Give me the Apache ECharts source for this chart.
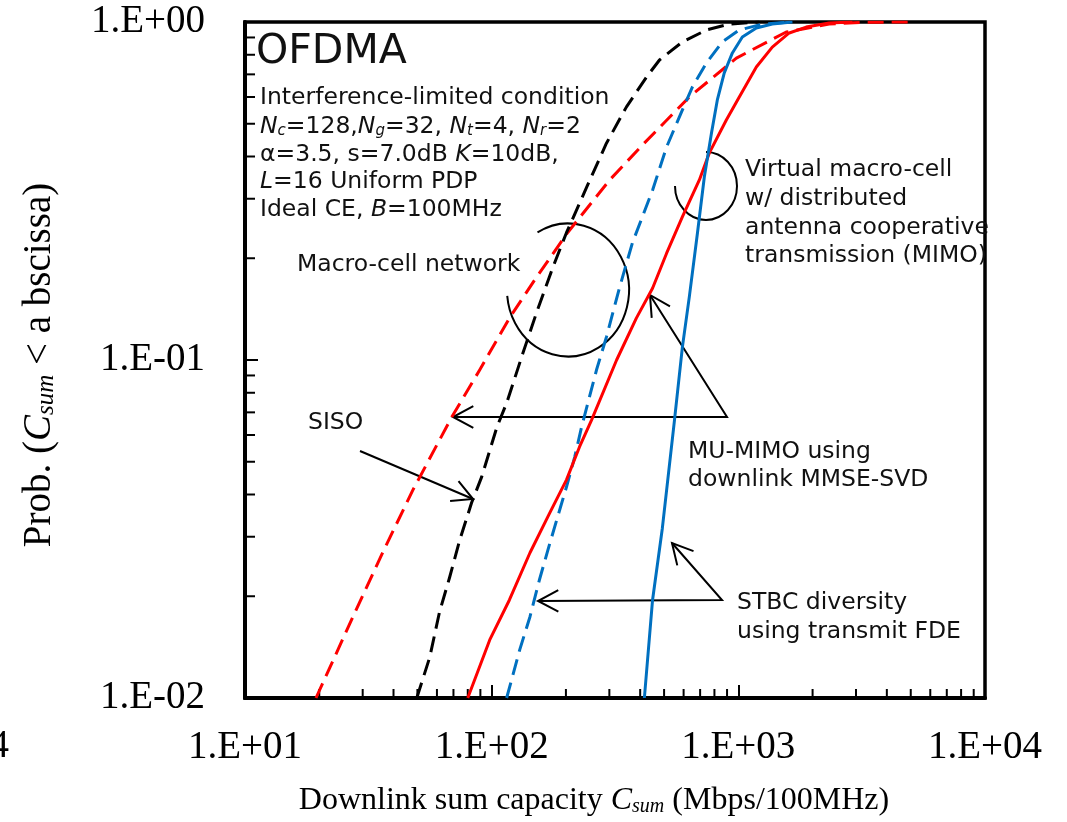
<!DOCTYPE html>
<html>
<head>
<meta charset="utf-8">
<script src="https://cdn.jsdelivr.net/npm/echarts@6/dist/echarts.min.js"></script>
<style>
  html, body { margin: 0; padding: 0; background: #fff; }
  #chart { width: 1067px; height: 822px; }
</style>
</head>
<body>
<div id="chart"></div>
<script>
// CDF of downlink sum capacity: [C_sum (Mbps/100MHz), Prob(C_sum < abscissa)]
// Macro-cell network (dashed)
const macroMuMimo = [[19.4,0.01],[27.4,0.0174],[36.2,0.027],[47.9,0.0412],[68.9,0.0678],[89.4,0.0934],[118,0.133],[149,0.172],[203,0.238],[301,0.341],[409,0.433],[633,0.600],[982,0.782],[1564,0.934],[2335,0.986],[3200,0.998],[5100,1]];
const macroSiso = [[49.7,0.01],[56.1,0.0132],[61.5,0.018],[67.6,0.0228],[74.2,0.0293],[82.9,0.0378],[91.1,0.0451],[105,0.0633],[115,0.0746],[134,0.105],[152,0.138],[177,0.188],[201,0.238],[243,0.325],[292,0.438],[352,0.561],[425,0.688],[479,0.772],[593,0.873],[742,0.947],[920,0.986],[1217,1]];
const macroStbc = [[115,0.01],[130,0.0139],[143,0.0174],[156,0.0223],[169,0.0274],[185,0.0343],[201,0.0421],[217,0.0516],[231,0.0629],[266,0.0934],[292,0.117],[330,0.164],[372,0.222],[449,0.318],[512,0.427],[577,0.524],[651,0.642],[742,0.756],[861,0.873],[1009,0.947],[1250,0.986],[1655,1]];
// Virtual macro-cell with distributed antenna cooperative transmission (solid)
const virtualMuMimo = [[80,0.01],[98.2,0.01485],[118,0.0195],[143,0.0269],[172,0.0353],[201,0.0442],[227,0.0553],[254,0.0664],[321,0.1],[386,0.133],[449,0.163],[512,0.207],[593,0.265],[695,0.341],[763,0.41],[894,0.513],[1009,0.6],[1183,0.736],[1373,0.843],[1608,0.928],[1884,0.966],[2335,0.993],[2900,1]];
const virtualStbc = [[416,0.01],[449,0.0195],[492,0.0318],[551,0.0664],[593,0.109],[633,0.154],[683,0.238],[728,0.348],[778,0.469],[822,0.588],[877,0.707],[946,0.81],[1038,0.903],[1183,0.96],[1373,0.986],[1655,1]];

const xTickLabels = ['1.E+01', '1.E+02', '1.E+03', '1.E+04'];
const yTickLabels = ['1.E-02', '1.E-01', '1.E+00'];

const RED = '#ff0000', BLUE = '#0070c0', BLACK = '#000000';
const SERIF = '"Liberation Serif", "Times New Roman", serif';
const SANS = '"DejaVu Sans", Verdana, sans-serif';
const TXT = '#111111';
const FS = 23.5;

// Logarithmic minor tick positions (2..9 within each decade)
const minorTicks = [];
[10, 100, 1000].forEach(d => { for (let m = 2; m <= 9; m++) minorTicks.push([m * d, 0.01, 0]); });
[0.01, 0.1].forEach(d => { for (let m = 2; m <= 9; m++) minorTicks.push([10, +(m * d).toFixed(3), 1]); });

function curve(name, data, color, dashed) {
  return {
    name, type: 'line', data,
    showSymbol: false, smooth: false,
    lineStyle: { color, width: 3, type: dashed ? [16, 8] : 'solid', join: 'round' },
    z: 5, silent: true
  };
}

// open V arrow head at (tx,ty) for a shaft coming from (fx,fy)
function arrowHead(tx, ty, fx, fy) {
  const th = Math.atan2(fy - ty, fx - tx), a = 28 * Math.PI / 180, L = 23;
  return {
    type: 'polyline',
    shape: { points: [[tx + L * Math.cos(th + a), ty + L * Math.sin(th + a)], [tx, ty], [tx + L * Math.cos(th - a), ty + L * Math.sin(th - a)]] },
    style: { stroke: BLACK, lineWidth: 2, fill: null }
  };
}
function seg(points) {
  return { type: 'polyline', shape: { points }, style: { stroke: BLACK, lineWidth: 2, fill: null } };
}
function label(x, y, text, size, extra) {
  return {
    type: 'text', x, y,
    style: Object.assign({ text, font: size + 'px ' + SANS, fill: TXT, align: 'left', verticalAlign: 'middle' }, extra || {})
  };
}
const richSub = {
  i: { fontStyle: 'italic', fontSize: FS, fontFamily: SANS, fill: TXT },
  s: { fontStyle: 'italic', fontSize: 15, fontFamily: SANS, fill: TXT, verticalAlign: 'bottom' }
};

const chart = echarts.init(document.getElementById('chart'), null, { renderer: 'canvas' });

chart.setOption({
  backgroundColor: '#ffffff',
  animation: false,
  grid: { left: 245, right: 82, top: 22, bottom: 124, containLabel: false, show: true, borderColor: BLACK, borderWidth: 3.5, backgroundColor: 'transparent' },
  xAxis: {
    type: 'log', logBase: 10, min: 10, max: 10000,
    name: 'Downlink sum capacity {i|C}{s|sum} (Mbps/100MHz)',
    nameLocation: 'middle', nameGap: 87,
    nameTextStyle: {
      fontFamily: SERIF, fontSize: 32, color: BLACK, padding: [0, 42, 0, 0],
      rich: {
        i: { fontFamily: SERIF, fontSize: 32, fontStyle: 'italic', color: BLACK },
        s: { fontFamily: SERIF, fontSize: 20, fontStyle: 'italic', color: BLACK, verticalAlign: 'bottom' }
      }
    },
    axisLine: { show: true, lineStyle: { color: BLACK, width: 4 } },
    axisTick: { show: true, inside: true, length: 13, lineStyle: { color: BLACK, width: 2 } },
    minorTick: { show: false },
    splitLine: { show: false },
    axisLabel: {
      margin: 30, fontFamily: SERIF, fontSize: 39, color: BLACK,
      formatter: v => xTickLabels[Math.round(Math.log10(v)) - 1]
    }
  },
  yAxis: {
    type: 'log', logBase: 10, min: 0.01, max: 1,
    name: 'Prob. ({i|C}{s|sum} < a bscissa)',
    nameLocation: 'middle', nameGap: 186, nameRotate: 90,
    nameTextStyle: {
      fontFamily: SERIF, fontSize: 39, color: BLACK, padding: [0, 10, 0, 0],
      rich: {
        i: { fontFamily: SERIF, fontSize: 39, fontStyle: 'italic', color: BLACK },
        s: { fontFamily: SERIF, fontSize: 25, fontStyle: 'italic', color: BLACK, verticalAlign: 'bottom' }
      }
    },
    axisLine: { show: true, lineStyle: { color: BLACK, width: 4 } },
    axisTick: { show: true, inside: true, length: 13, lineStyle: { color: BLACK, width: 2 } },
    minorTick: { show: false },
    splitLine: { show: false },
    axisLabel: {
      margin: 40, fontFamily: SERIF, fontSize: 39, color: BLACK,
      formatter: v => yTickLabels[Math.round(Math.log10(v)) + 2]
    }
  },
  series: [
    {
      type: 'custom', name: 'minor ticks', data: minorTicks, silent: true, clip: false, z: 3,
      renderItem: function (params, api) {
        const p = api.coord([api.value(0), api.value(1)]);
        const vertical = api.value(2) === 0;
        return {
          type: 'line',
          shape: vertical ? { x1: p[0], y1: p[1], x2: p[0], y2: p[1] - 9 } : { x1: p[0], y1: p[1], x2: p[0] + 10, y2: p[1] },
          style: { stroke: BLACK, lineWidth: 2 }
        };
      }
    },
    curve('Macro-cell MU-MIMO', macroMuMimo, RED, true),
    curve('Macro-cell SISO', macroSiso, BLACK, true),
    curve('Macro-cell STBC', macroStbc, BLUE, true),
    curve('Virtual macro-cell MU-MIMO', virtualMuMimo, RED, false),
    curve('Virtual macro-cell STBC', virtualStbc, BLUE, false)
  ],
  graphic: [
    // tick label of the neighbouring panel, cut at the page edge
    { type: 'text', x: 9, y: 747, style: { text: '1.E+04', font: '39px ' + SERIF, fill: BLACK, align: 'right', verticalAlign: 'middle' } },

    label(256, 52, 'OFDMA', 41),
    label(260, 98, 'Interference-limited condition', FS),
    label(260, 127, '{i|N}{s|c}=128,{i|N}{s|g}=32, {i|N}{s|t}=4, {i|N}{s|r}=2', FS, { rich: richSub }),
    label(260, 155, 'α=3.5, s=7.0dB {i|K}=10dB,', FS, { rich: richSub }),
    label(260, 182, '{i|L}=16 Uniform PDP', FS, { rich: richSub }),
    label(260, 210, 'Ideal CE, {i|B}=100MHz', FS, { rich: richSub }),

    label(297, 265, 'Macro-cell network', FS),
    label(308, 423, 'SISO', FS),
    label(745, 170, 'Virtual macro-cell', FS),
    label(745, 199, 'w/ distributed', FS),
    label(745, 228, 'antenna cooperative', FS),
    label(745, 256, 'transmission (MIMO)', FS),
    label(688, 452, 'MU-MIMO using', FS),
    label(688, 480, 'downlink MMSE-SVD', FS),
    label(737, 603, 'STBC diversity', FS),
    label(737, 632, 'using transmit FDE', FS),

    // group markers
    {
      type: 'arc', x: 568, y: 290, scaleX: 1, scaleY: 66.5 / 61,
      shape: { cx: 0, cy: 0, r: 61, startAngle: 240 * Math.PI / 180, endAngle: 175 * Math.PI / 180, clockwise: true },
      style: { stroke: BLACK, lineWidth: 2, fill: null, strokeNoScale: true }
    },
    {
      type: 'arc', x: 706, y: 186, scaleX: 1, scaleY: 34 / 31,
      shape: { cx: 0, cy: 0, r: 31, startAngle: 270 * Math.PI / 180, endAngle: 180 * Math.PI / 180, clockwise: true },
      style: { stroke: BLACK, lineWidth: 2, fill: null, strokeNoScale: true }
    },

    // MU-MIMO pointers
    seg([[650, 295], [727, 417], [453, 417]]),
    arrowHead(650, 295, 727, 417),
    arrowHead(453, 417, 727, 417),
    // SISO pointer
    seg([[360, 451], [473, 499]]),
    arrowHead(473, 499, 360, 451),
    // STBC pointers
    seg([[672, 543], [722, 600], [538, 601]]),
    arrowHead(672, 543, 722, 600),
    arrowHead(538, 601, 722, 600)
  ]
});
</script>
</body>
</html>
